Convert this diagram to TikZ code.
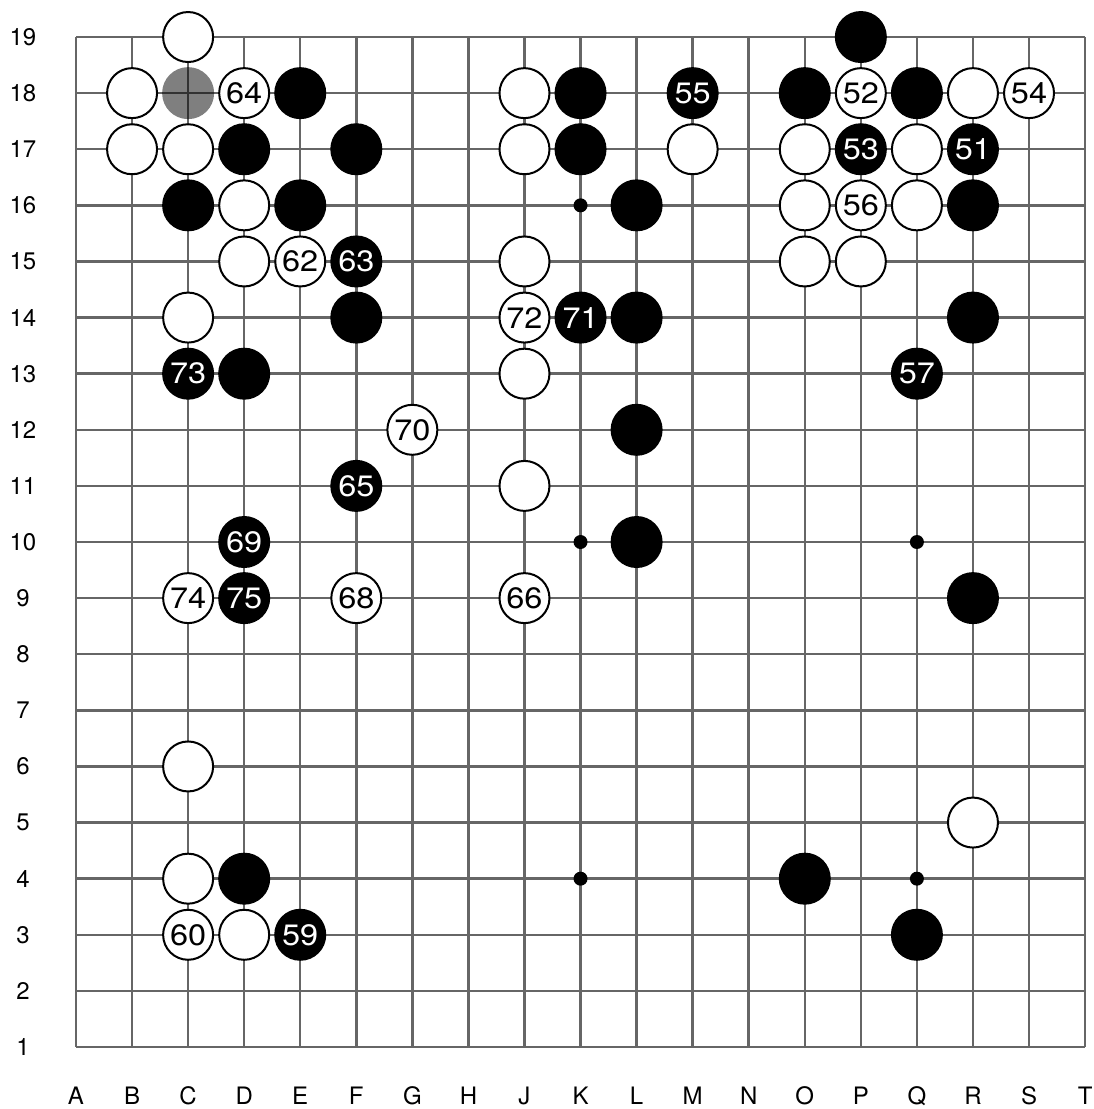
\documentclass[tikz,border=0pt]{standalone}
\usepackage{fontspec}
\setmainfont{TeX Gyre Heros}
\definecolor{gridc}{HTML}{666666}
\newcommand\stonenum[1]{\scalebox{1.1}[1]{#1}}
\tikzset{
  gridline/.style={draw=gridc, line width=2.5pt},
  wstone/.style={circle, draw=black, fill=white, line width=2pt, minimum size=50pt, inner sep=0pt, font=\fontsize{29.5}{29.5}\selectfont},
  bstone/.style={circle, draw=black, fill=black, line width=2pt, minimum size=50pt, inner sep=0pt, text=white, font=\fontsize{29.5}{29.5}\selectfont},
  gstone/.style={circle, fill=black, fill opacity=0.5, minimum size=52pt, inner sep=0pt},
  starpt/.style={circle, fill=black, minimum size=14pt, inner sep=0pt},
  coordlabel/.style={font=\fontsize{24}{24}\selectfont, inner sep=0pt}
}
\begin{document}
\begin{tikzpicture}[x=1pt,y=-1pt]
\useasboundingbox (0,0) rectangle (1094,1109);
% grid
\foreach \i in {1,...,19} {
  \draw[gridline] ({76+(\i-1)*56.06},37) -- ({76+(\i-1)*56.06},1047);
  \draw[gridline] (76,{1047-(\i-1)*56.11}) -- (1085,{1047-(\i-1)*56.11});
}
% column labels
\foreach \l [count=\i] in {A,B,C,D,E,F,G,H,J,K,L,M,N,O,P,Q,R,S,T} {
  \node[coordlabel] (col\l) at ({76+(\i-1)*56.06},1096) {\l};
}
% row labels
\foreach \r in {1,...,19} {
  \node[coordlabel] (row\r) at (23,{1047-(\r-1)*56.11}) {\r};
}
% star points
\foreach \c/\r in {10/16,10/10,16/10,10/4,16/4} {
  \node[starpt] (star-\c-\r) at ({76+(\c-1)*56.06},{1047-(\r-1)*56.11}) {};
}
% white stones
\foreach \c/\r/\t in {3/19/,2/18/,4/18/64,9/18/,15/18/52,17/18/,18/18/54,
  2/17/,3/17/,9/17/,12/17/,14/17/,16/17/,
  4/16/,14/16/,15/16/56,16/16/,
  4/15/,5/15/62,9/15/,14/15/,15/15/,
  3/14/,9/14/72,9/13/,7/12/70,9/11/,
  3/9/74,6/9/68,9/9/66,3/6/,17/5/,3/4/,3/3/60,4/3/} {
  \node[wstone] (w-\c-\r) at ({76+(\c-1)*56.06},{1047-(\r-1)*56.11}) {\stonenum{\t}};
}
% black stones
\foreach \c/\r/\t in {15/19/,5/18/,10/18/,12/18/55,14/18/,16/18/,
  4/17/,6/17/,10/17/,15/17/53,17/17/51,
  3/16/,5/16/,11/16/,17/16/,
  6/15/63,6/14/,10/14/71,11/14/,17/14/,
  3/13/73,4/13/,16/13/57,11/12/,6/11/65,
  4/10/69,11/10/,4/9/75,17/9/,
  4/4/,14/4/,5/3/59,16/3/} {
  \node[bstone] (b-\c-\r) at ({76+(\c-1)*56.06},{1047-(\r-1)*56.11}) {\stonenum{\t}};
}
% gray (marked) stone
\node[gstone] (g-3-18) at ({76+(3-1)*56.06},{1047-(18-1)*56.11}) {};
\end{tikzpicture}
\end{document}
